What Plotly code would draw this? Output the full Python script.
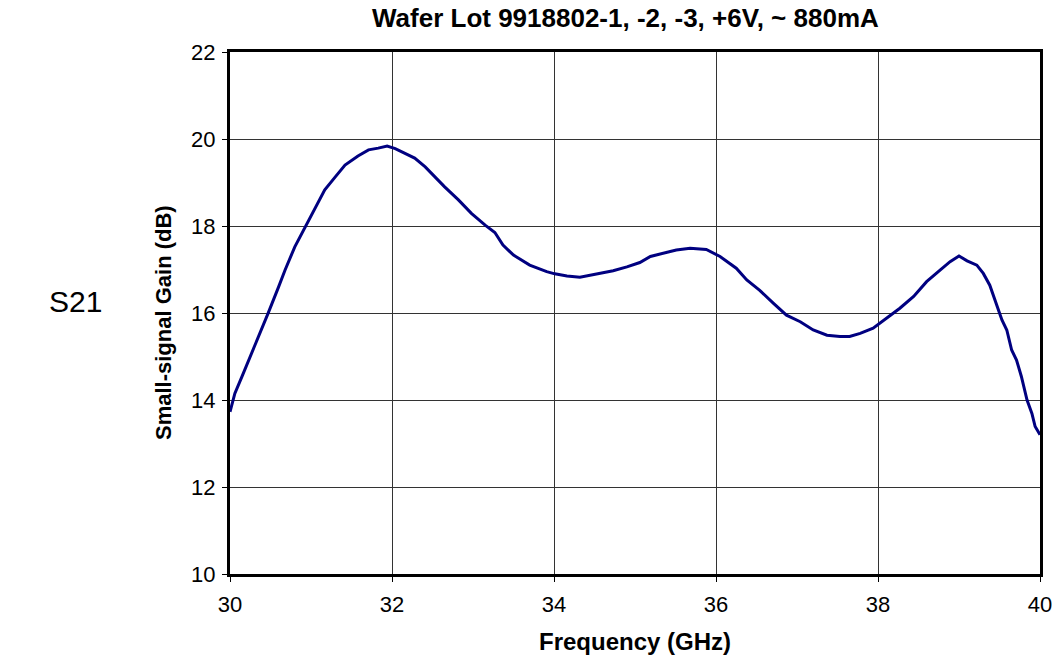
import plotly.graph_objects as go

# Measured small-signal gain S21 versus frequency
freq_ghz = [30.00, 30.06, 30.15, 30.24, 30.34, 30.47, 30.60, 30.68, 30.80, 30.93,
            31.05, 31.17, 31.30, 31.42, 31.58, 31.71, 31.83, 31.94, 32.04, 32.16,
            32.28, 32.41, 32.53, 32.65, 32.82, 32.98, 33.15, 33.27, 33.37, 33.50,
            33.70, 33.91, 34.01, 34.16, 34.32, 34.53, 34.73, 34.90, 35.06, 35.19,
            35.35, 35.51, 35.68, 35.88, 36.05, 36.25, 36.38, 36.54, 36.71, 36.87,
            37.04, 37.20, 37.37, 37.53, 37.65, 37.78, 37.94, 38.11, 38.27, 38.44,
            38.60, 38.77, 38.89, 39.00, 39.10, 39.22, 39.30, 39.38, 39.46, 39.53,
            39.59, 39.65, 39.71, 39.77, 39.84, 39.90, 39.94, 40.00]
gain_db = [13.73, 14.15, 14.55, 14.95, 15.38, 15.99, 16.60, 16.99, 17.52, 17.98,
           18.44, 18.83, 19.13, 19.40, 19.61, 19.75, 19.79, 19.84, 19.78, 19.67,
           19.56, 19.36, 19.13, 18.90, 18.60, 18.29, 18.02, 17.85, 17.56, 17.33,
           17.10, 16.95, 16.90, 16.85, 16.82, 16.89, 16.97, 17.06, 17.16, 17.30,
           17.37, 17.45, 17.49, 17.46, 17.30, 17.03, 16.76, 16.52, 16.22, 15.95,
           15.80, 15.61, 15.49, 15.46, 15.46, 15.53, 15.65, 15.88, 16.11, 16.38,
           16.72, 16.99, 17.18, 17.31, 17.20, 17.10, 16.91, 16.64, 16.22, 15.84,
           15.61, 15.15, 14.92, 14.54, 14.00, 13.69, 13.39, 13.20]

x_ticks = [30, 32, 34, 36, 38, 40]
y_ticks = [10, 12, 14, 16, 18, 20, 22]

FONT = "Arial, Liberation Sans, sans-serif"

fig = go.Figure()
fig.add_trace(go.Scatter(
    x=freq_ghz, y=gain_db, mode="lines",
    line=dict(color="#000080", width=3),
    hoverinfo="x+y", showlegend=False,
))

axis_common = dict(
    showgrid=True, gridcolor="#333333", gridwidth=1,
    showline=True, linecolor="black", linewidth=3, mirror=True,
    ticks="outside", ticklen=5, tickcolor="black", tickwidth=1,
    tickfont=dict(family=FONT, size=22, color="black"),
    zeroline=False, automargin=False,
)

fig.update_layout(
    width=1055, height=660,
    margin=dict(l=230, r=15, t=52, b=86),
    paper_bgcolor="white", plot_bgcolor="white",
    xaxis=dict(range=[30, 40], tickvals=x_ticks, ticklabelstandoff=4, **axis_common),
    yaxis=dict(range=[10, 22], tickvals=y_ticks, ticklabelstandoff=2, **axis_common),
    annotations=[
        dict(text="<b>Wafer Lot 9918802-1, -2, -3, +6V, ~ 880mA</b>",
             xref="paper", yref="paper", x=0.5, xshift=-10, y=1, yshift=34,
             showarrow=False, font=dict(family=FONT, size=26, color="black"),
             xanchor="center", yanchor="middle"),
        dict(text="<b>Frequency (GHz)</b>",
             xref="paper", yref="paper", x=0.5, y=0, yshift=-67,
             showarrow=False, font=dict(family=FONT, size=24, color="black"),
             xanchor="center", yanchor="middle"),
        dict(text="<b>Small-signal Gain (dB)</b>", textangle=-90,
             xref="paper", yref="paper", x=0, xshift=-67, y=0.5, yshift=-10,
             showarrow=False, font=dict(family=FONT, size=22, color="black"),
             xanchor="center", yanchor="middle"),
        dict(text="S21",
             xref="paper", yref="paper", x=0, xshift=-155, y=0.5, yshift=12,
             showarrow=False, font=dict(family=FONT, size=30, color="black"),
             xanchor="center", yanchor="middle"),
    ],
)

fig.write_html("out.html")
